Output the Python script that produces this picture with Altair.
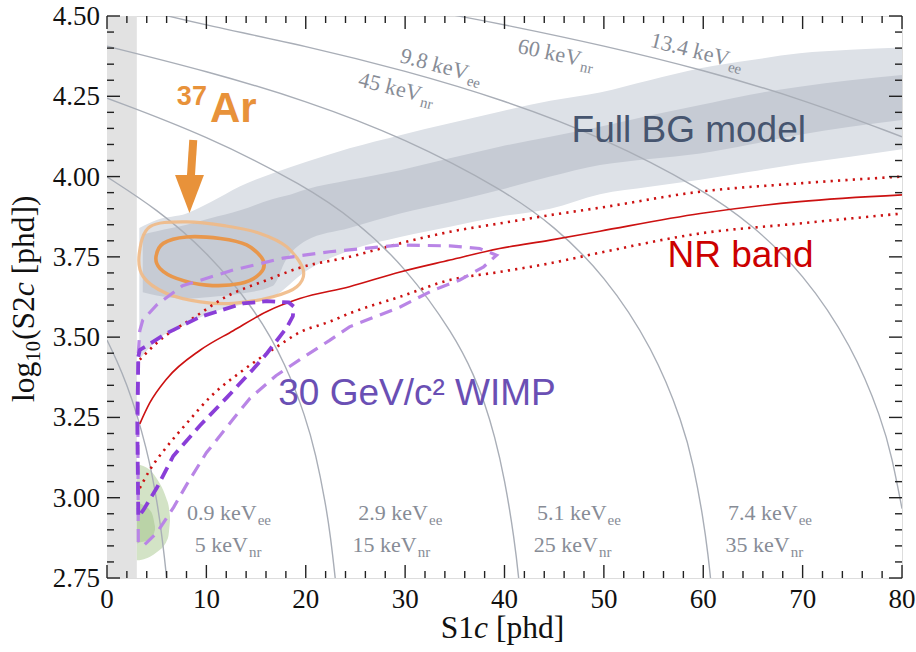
import altair as alt
import pandas as pd

# ---------------- values ----------------
X_MAJOR = [0, 10, 20, 30, 40, 50, 60, 70, 80]
X_LABELS = ["0", "10", "20", "30", "40", "50", "60", "70", "80"]
X_MINOR = [2, 4, 6, 8, 12, 14, 16, 18, 22, 24, 26, 28, 32, 34, 36, 38, 42, 44, 46, 48,
           52, 54, 56, 58, 62, 64, 66, 68, 72, 74, 76, 78]
Y_MAJOR = [2.75, 3.00, 3.25, 3.50, 3.75, 4.00, 4.25, 4.50]
Y_LABELS = ["2.75", "3.00", "3.25", "3.50", "3.75", "4.00", "4.25", "4.50"]
Y_MINOR = [2.80, 2.85, 2.90, 2.95, 3.05, 3.10, 3.15, 3.20, 3.30, 3.35, 3.40, 3.45,
           3.55, 3.60, 3.65, 3.70, 3.80, 3.85, 3.90, 3.95, 4.05, 4.10, 4.15, 4.20,
           4.30, 4.35, 4.40, 4.45]

THRESH_S1 = [0.0, 3.0]

# Full BG model bands
BGL_S1 = [3.25, 5, 8, 10.4, 13.4, 16.7, 20, 24.4, 29.5, 34.5, 39.5, 44.6, 49.6, 54.6, 59.7, 64.7, 69.7, 74.8, 80]
BGL_HI = [3.84, 3.865, 3.885, 3.92, 3.97, 4.01, 4.045, 4.088, 4.129, 4.166, 4.202, 4.236, 4.262, 4.30, 4.337, 4.362, 4.384, 4.395, 4.402]
BGL_LO = [3.43, 3.49, 3.54, 3.575, 3.60, 3.625, 3.705, 3.77, 3.812, 3.844, 3.875, 3.90, 3.945, 3.968, 3.99, 4.015, 4.04, 4.062, 4.085]
BGD_S1 = [3.6, 5, 8, 10.4, 13.4, 16.7, 18, 20, 24.4, 29.5, 34.5, 39.5, 44.6, 49.6, 54.6, 59.7, 64.7, 69.7, 74.8, 80]
BGD_HI = [3.82, 3.83, 3.85, 3.87, 3.895, 3.93, 3.94, 3.96, 3.989, 4.02, 4.057, 4.093, 4.124, 4.155, 4.19, 4.223, 4.255, 4.28, 4.30, 4.316]
BGD_LO = [3.64, 3.63, 3.62, 3.625, 3.635, 3.66, 3.74, 3.80, 3.84, 3.885, 3.92, 3.958, 4.0, 4.036, 4.055, 4.072, 4.10, 4.13, 4.155, 4.176]

# green blob
GRO_S1 = [3.0, 3.5, 4.33, 5.0, 5.66, 6.0, 6.2, 6.34]
GRO_HI = [3.106, 3.10, 3.086, 3.06, 3.023, 2.995, 2.975, 2.94]
GRO_LO = [2.805, 2.807, 2.816, 2.83, 2.848, 2.865, 2.885, 2.93]
GRI_S1 = [3.0, 3.5, 4.0, 4.33, 4.6, 4.83]
GRI_HI = [2.985, 2.98, 2.97, 2.961, 2.945, 2.91]
GRI_LO = [2.86, 2.862, 2.866, 2.868, 2.878, 2.90]

# energy contours (gray arcs)
ARC_09_S1 = [0, 1, 2, 3, 4, 4.5, 5, 5.4, 5.8, 6.0, 6.1]
ARC_09_Y = [3.491, 3.427, 3.352, 3.262, 3.148, 3.077, 2.993, 2.911, 2.81, 2.749, 2.715]
ARC_29_S1 = [0, 5, 10, 15, 18, 20, 21, 22, 22.5, 23, 23.2]
ARC_29_Y = [3.999, 3.899, 3.769, 3.583, 3.415, 3.250, 3.137, 2.982, 2.878, 2.741, 2.68]
ARC_51_S1 = [0, 10, 20, 25, 30, 35, 37, 38, 39, 40, 41, 41.5, 41.7]
ARC_51_Y = [4.244, 4.128, 3.970, 3.863, 3.720, 3.505, 3.376, 3.295, 3.194, 3.061, 2.871, 2.731, 2.66]
ARC_74_S1 = [0, 10, 20, 30, 40, 45, 50, 55, 58, 59, 60, 60.5, 60.8, 61.0]
ARC_74_Y = [4.406, 4.329, 4.237, 4.119, 3.957, 3.846, 3.696, 3.464, 3.226, 3.104, 2.936, 2.819, 2.73, 2.66]
ARC_98_S1 = [4.8, 10, 20, 30, 40, 50, 60, 65, 70, 75, 78, 79, 80]
ARC_98_Y = [4.51, 4.471, 4.407, 4.330, 4.238, 4.121, 3.960, 3.848, 3.701, 3.473, 3.241, 3.125, 2.966]
ARC_134_S1 = [35.0, 40, 50, 60, 70, 80]
ARC_134_Y = [4.502, 4.473, 4.408, 4.332, 4.241, 4.124]

# 37Ar contours
AR_OUT_S1 = [3.25, 4.33, 8.0, 12.0, 15.4, 18.1, 19.75, 19.1, 16.7, 12.7, 9.4, 6.0, 3.65]
AR_OUT_Y = [3.761, 3.844, 3.859, 3.846, 3.823, 3.781, 3.709, 3.657, 3.626, 3.605, 3.61, 3.636, 3.688]
AR_IN_S1 = [4.93, 5.66, 8.0, 11.4, 14.05, 15.7, 15.4, 13.4, 10.0, 7.0, 5.33]
AR_IN_Y = [3.75, 3.792, 3.812, 3.807, 3.787, 3.74, 3.698, 3.667, 3.662, 3.683, 3.714]

# NR band
NR_MED_S1 = [3.3, 4.3, 6.0, 9.4, 12.7, 16.1, 19.4, 24.4, 29.5, 34.5, 39.5, 44.6, 49.6, 59.7, 69.7, 80]
NR_MED_Y = [3.23, 3.295, 3.37, 3.46, 3.52, 3.58, 3.62, 3.657, 3.703, 3.74, 3.776, 3.802, 3.83, 3.885, 3.922, 3.943]
NR_UP_S1 = [3.3, 5.3, 8.7, 12.0, 16.1, 19.4, 24.4, 29.5, 34.5, 39.5, 44.6, 49.6, 59.7, 69.7, 80]
NR_UP_Y = [3.43, 3.49, 3.56, 3.626, 3.678, 3.716, 3.75, 3.792, 3.828, 3.854, 3.88, 3.903, 3.953, 3.979, 4.0]
NR_LO_S1 = [3.3, 4.3, 6.0, 8.0, 10.4, 13.7, 17.1, 19.4, 22.4, 24.4, 29.5, 34.5, 39.5, 44.6, 49.6, 59.7, 69.7, 80]
NR_LO_Y = [3.03, 3.086, 3.158, 3.231, 3.314, 3.397, 3.47, 3.515, 3.548, 3.574, 3.626, 3.678, 3.703, 3.73, 3.763, 3.823, 3.854, 3.885]

# 30 GeV WIMP contours
WI_IN_S1 = [3.15, 3.3, 6.0, 9.36, 13.7, 16.1, 18.3, 18.8, 18.7, 18.1, 16.1, 14.7, 12.0, 9.36, 6.67, 5.0, 3.65, 3.15, 3.05, 3.15]
WI_IN_Y = [3.439, 3.46, 3.512, 3.563, 3.605, 3.612, 3.608, 3.595, 3.565, 3.53, 3.45, 3.40, 3.31, 3.225, 3.13, 3.03, 2.961, 2.94, 3.231, 3.439]
WI_OUT_S1 = [3.15, 3.1, 3.15, 3.3, 3.6, 5.0, 7.6, 12.7, 17.7, 22.4, 29.5, 34.5, 37.5, 39.2, 37.9, 35.5,
             32.8, 29.5, 24.4, 22.4, 19.4, 17.0, 14.4, 12.7, 10.0, 8.0, 6.7, 5.0, 3.65, 3.15]
WI_OUT_Y = [2.862, 3.23, 3.45, 3.52, 3.553, 3.60, 3.66, 3.709, 3.746, 3.766, 3.787, 3.784, 3.776, 3.755, 3.719, 3.678,
            3.646, 3.594, 3.532, 3.49, 3.43, 3.38, 3.31, 3.245, 3.14, 3.04, 2.97, 2.89, 2.85, 2.862]

# arrow
ARROW_S1 = [8.68, 8.42]
ARROW_Y = [4.114, 3.99]
ARROW_HEAD = (8.3, 3.946)

# energy labels (anchor = end of "keV" on baseline)
BOT_EE_TXT = ["0.9 keV", "2.9 keV", "5.1 keV", "7.4 keV"]
BOT_EE_S1 = [15.06, 32.3, 50.27, 69.5]
BOT_EE_Y = [2.930, 2.930, 2.930, 2.930]
BOT_NR_TXT = ["5 keV", "15 keV", "25 keV", "35 keV"]
BOT_NR_S1 = [14.19, 31.16, 49.4, 68.7]
BOT_NR_Y = [2.830, 2.830, 2.830, 2.830]
TOP_TXT = ["9.8 keV", "45 keV", "60 keV", "13.4 keV"]
TOP_SUB = ["ee", "nr", "nr", "ee"]
TOP_S1 = [36.15, 31.45, 47.54, 62.43]
TOP_Y = [4.301, 4.234, 4.344, 4.344]
TOP_ANG = [15, 14, 12, 14]

# ---------------- chart ----------------
W, H = 795, 562
SERIF = "Liberation Serif"
SANS = "Liberation Sans"
ARC_C = "#a9aeb7"
LBL_C = "#878c96"
INK = "#111"

xs = alt.Scale(domain=[0, 80], nice=False, zero=False)
ys = alt.Scale(domain=[2.75, 4.5], nice=False, zero=False)


def X(f):
    return alt.X(f, type="quantitative", scale=xs, axis=None)


def Y(f):
    return alt.Y(f, type="quantitative", scale=ys, axis=None)


def df(**cols):
    return pd.DataFrame(cols)


def line_df(groups):
    rows = []
    for gid, (sx, sy) in groups.items():
        for i, (a, b) in enumerate(zip(sx, sy)):
            rows.append({"g": gid, "s1": a, "y": b, "o": i})
    return pd.DataFrame(rows)


strip = alt.Chart(df(a=[THRESH_S1[0]], b=[THRESH_S1[1]], lo=[2.75], hi=[4.5])).mark_rect(
    color="#e2e2e2").encode(x=X("a"), x2="b:Q", y=Y("lo"), y2="hi:Q")


def band(sx, lo, hi, color):
    return alt.Chart(df(s1=sx, lo=lo, hi=hi)).mark_area(color=color, interpolate="monotone").encode(
        x=X("s1"), y=Y("lo"), y2="hi:Q")


bg_light = band(BGL_S1, BGL_LO, BGL_HI, "#dde1e7")
bg_dark = band(BGD_S1, BGD_LO, BGD_HI, "#c6cbd4")
green_o = band(GRO_S1, GRO_LO, GRO_HI, "#d3e3c6")
green_i = band(GRI_S1, GRI_LO, GRI_HI, "#bad3a7")


def lines(groups, interp="monotone", **mk):
    return alt.Chart(line_df(groups)).mark_line(clip=True, interpolate=interp, **mk).encode(
        x=X("s1"), y=Y("y"), detail="g:N", order="o:Q")


arcs = lines({"a1": (ARC_09_S1, ARC_09_Y), "a2": (ARC_29_S1, ARC_29_Y), "a3": (ARC_51_S1, ARC_51_Y),
              "a4": (ARC_74_S1, ARC_74_Y), "a5": (ARC_98_S1, ARC_98_Y), "a6": (ARC_134_S1, ARC_134_Y)},
             interp="basis", color=ARC_C, strokeWidth=1.4)

ar_out = lines({"o": (AR_OUT_S1, AR_OUT_Y)}, interp="cardinal-closed", color="#efb985", strokeWidth=3.2, opacity=0.9)
ar_in = lines({"i": (AR_IN_S1, AR_IN_Y)}, interp="cardinal-closed", color="#e8974c", strokeWidth=3.6)

nr_med = lines({"m": (NR_MED_S1, NR_MED_Y)}, color="#cc1111", strokeWidth=1.6)
nr_dot = lines({"u": (NR_UP_S1, NR_UP_Y), "l": (NR_LO_S1, NR_LO_Y)}, color="#cc1111",
               strokeWidth=2.6, strokeDash=[2.2, 5.2])

wi_out = lines({"o": (WI_OUT_S1, WI_OUT_Y)}, interp="linear", color="#b985e6", strokeWidth=3.2,
               strokeDash=[13, 8])
wi_in = lines({"i": (WI_IN_S1, WI_IN_Y)}, interp="linear", color="#8a3ed8", strokeWidth=3.8,
              strokeDash=[13, 7])

ORANGE = "#e8923a"
arrow = alt.Chart(df(s1=ARROW_S1, y=ARROW_Y)).mark_line(color=ORANGE, strokeWidth=8).encode(
    x=X("s1"), y=Y("y"))
head = alt.Chart(df(s1=[ARROW_HEAD[0]], y=[ARROW_HEAD[1]])).mark_point(
    shape="M -0.76 -1 L 0.76 -1 L 0 1 Z", size=1444, filled=True, color=ORANGE, opacity=1).encode(
    x=X("s1"), y=Y("y"))


def text_at(sx, sy, txt, **mk):
    return alt.Chart(df(s1=[sx], y=[sy], t=[txt])).mark_text(**mk).encode(
        x=X("s1"), y=Y("y"), text="t:N")


ar37 = text_at(7.03, 4.223, "37", font=SANS, fontWeight="bold", fontSize=27, color=ORANGE,
               align="left", baseline="alphabetic")
ar_txt = text_at(10.36, 4.170, "Ar", font=SANS, fontWeight="bold", fontSize=42, color=ORANGE,
                 align="left", baseline="alphabetic")
bg_txt = text_at(46.75, 4.108, "Full BG model", font=SANS, fontSize=37, color="#46556f",
                 align="left", baseline="alphabetic")
nr_txt = text_at(56.4, 3.718, "NR band", font=SANS, fontSize=37, color="#cc0000",
                 align="left", baseline="alphabetic")
wimp_txt = text_at(17.23, 3.288, "30 GeV/c\u00b2 WIMP", font=SANS, fontSize=37, color="#6a4fb4",
                   align="left", baseline="alphabetic")


def bottom_labels(txts, sx, sy, sub):
    d = df(s1=sx, y=sy, t=txts, s=[sub] * len(txts))
    base = alt.Chart(d).encode(x=X("s1"), y=Y("y"))
    main = base.mark_text(font=SERIF, fontSize=22, color=LBL_C, align="right", baseline="alphabetic").encode(text="t:N")
    subm = base.mark_text(font=SERIF, fontSize=15, color=LBL_C, align="left", baseline="alphabetic",
                          dx=1, dy=5).encode(text="s:N")
    return main + subm


ee_lbl = bottom_labels(BOT_EE_TXT, BOT_EE_S1, BOT_EE_Y, "ee")
nr_lbl = bottom_labels(BOT_NR_TXT, BOT_NR_S1, BOT_NR_Y, "nr")

top_lbls = []
for t, s, sx, sy, ang in zip(TOP_TXT, TOP_SUB, TOP_S1, TOP_Y, TOP_ANG):
    top_lbls.append(text_at(sx, sy, t, font=SERIF, fontSize=22, color=LBL_C, align="right",
                            baseline="alphabetic", angle=ang))
    top_lbls.append(text_at(sx, sy, s, font=SERIF, fontSize=15, color=LBL_C, align="left",
                            baseline="alphabetic", angle=ang, dx=1, dy=5))

# inward ticks on all four sides
TICK_C = "#222"


def xticks(vals, length):
    b = alt.Chart(df(v=vals)).encode(x=X("v"))
    return (b.mark_rule(color=TICK_C, strokeWidth=1.4).encode(y=alt.value(H), y2=alt.value(H - length)) +
            b.mark_rule(color=TICK_C, strokeWidth=1.4).encode(y=alt.value(0), y2=alt.value(length)))


def yticks(vals, length):
    b = alt.Chart(df(v=vals)).encode(y=Y("v"))
    return (b.mark_rule(color=TICK_C, strokeWidth=1.4).encode(x=alt.value(0), x2=alt.value(length)) +
            b.mark_rule(color=TICK_C, strokeWidth=1.4).encode(x=alt.value(W), x2=alt.value(W - length)))


ticks = xticks(X_MAJOR, 13) + xticks(X_MINOR, 7) + yticks(Y_MAJOR, 13) + yticks(Y_MINOR, 7)

# tick labels (serif) drawn through the scales
xlab = alt.Chart(df(v=X_MAJOR, t=X_LABELS)).mark_text(
    font=SERIF, fontSize=27, color=INK, align="center", baseline="alphabetic").encode(
    x=X("v"), y=alt.value(H + 30), text="t:N")
ylab = alt.Chart(df(v=Y_MAJOR, t=Y_LABELS)).mark_text(
    font=SERIF, fontSize=27, color=INK, align="right", baseline="alphabetic", dy=9).encode(
    y=Y("v"), x=alt.value(-7), text="t:N")

# axis titles with italic c and subscript 10
one = df(k=[0])


def ptext(txt, x, y, **mk):
    return alt.Chart(one).mark_text(text=txt, **mk).encode(x=alt.value(x), y=alt.value(y))


TF = 31.5
YX, YY = -73.5, 386
ytitle = (ptext("log", YX, YY, font=SERIF, fontSize=TF, angle=270, align="left", baseline="alphabetic", color=INK) +
          ptext("10", YX, YY, font=SERIF, fontSize=20.5, angle=270, align="left", baseline="alphabetic", dx=40.5, dy=6.5, color=INK) +
          ptext("(S2", YX, YY, font=SERIF, fontSize=TF, angle=270, align="left", baseline="alphabetic", dx=62, color=INK) +
          ptext("c", YX, YY, font=SERIF, fontSize=TF, fontStyle="italic", angle=270, align="left", baseline="alphabetic", dx=105.8, color=INK) +
          ptext("[phd])", YX, YY, font=SERIF, fontSize=TF, angle=270, align="left", baseline="alphabetic", dx=127.7, color=INK))

XX, XY = 333.8, 622
xtitle = (ptext("S1", XX, XY, font=SERIF, fontSize=TF, align="left", baseline="alphabetic", color=INK) +
          ptext("c", XX, XY, font=SERIF, fontSize=TF, fontStyle="italic", align="left", baseline="alphabetic", dx=33.3, color=INK) +
          ptext("[phd]", XX, XY, font=SERIF, fontSize=TF, align="left", baseline="alphabetic", dx=55.2, color=INK))

chart = alt.layer(
    strip, bg_light, bg_dark, green_o, green_i, arcs, ar_out, ar_in, nr_med, nr_dot, wi_out, wi_in,
    arrow, head, ar37, ar_txt, bg_txt, nr_txt, wimp_txt, ee_lbl, nr_lbl, *top_lbls, ticks,
    xlab, ylab, ytitle, xtitle
).properties(
    width=W, height=H,
    autosize=alt.AutoSizeParams(type="none"),
    padding={"left": 107, "top": 16, "right": 14, "bottom": 74},
).configure_view(stroke="#222", strokeWidth=1.5).configure(background="white")

chart.save("out.html", embed_options={"renderer": "svg", "actions": False})
